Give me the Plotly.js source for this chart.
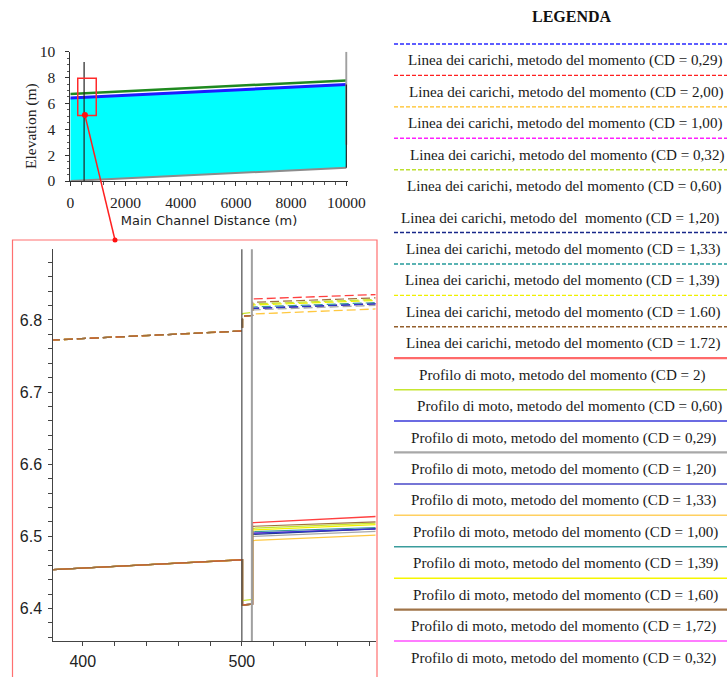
<!DOCTYPE html>
<html>
<head>
<meta charset="utf-8">
<script src="https://cdn.plot.ly/plotly-3.0.1.min.js"></script>
<style>
  html, body { margin: 0; padding: 0; background: #fff; }
  #chart { width: 728px; height: 677px; }
</style>
</head>
<body>
<div id="chart"></div>
<script>
// ---------- Whole reach (overview profile) ----------
const reachStation      = [0, 10000];
const bedElev           = [0.0, 1.03];
const wsReach           = [6.41, 7.46];
const egReach           = [6.73, 7.78];
const bridgeStation     = [500, 500];
const bridgeElev        = [0.0, 9.2];
const outletStation     = [10000, 10000];
const outletWallElev    = [2.8, 10.0];
const outletSectionElev = [1.03, 7.46];

// Zoom window drawn on the overview and the point it is taken from
const zoomBoxStation = [270, 940];
const zoomBoxElev    = [5.07, 7.95];
const zoomPoint      = [530, 5.1];

// ---------- Bridge detail ----------
const detailStation = [380, 500.4, 500.4, 506.7, 506.7, 590];
const bridgeFaces   = [500.0, 506.3];

// Water surface profiles, momentum method (one per drag coefficient CD)
const ws_CD200 = [6.4538, 6.4676, 6.4050, 6.4060, 6.5190, 6.5282];
const ws_CD172 = [6.4538, 6.4676, 6.4045, 6.4060, 6.5140, 6.5206];
const ws_CD060 = [6.4538, 6.4676, 6.4110, 6.4125, 6.5113, 6.5188];
const ws_CD160 = [6.4538, 6.4676, 6.4050, 6.4060, 6.5090, 6.5170];
const ws_CD139 = [6.4538, 6.4676, 6.4050, 6.4060, 6.5065, 6.5128];
const ws_CD029 = [6.4538, 6.4676, 6.4050, 6.4060, 6.5045, 6.5110];
const ws_CD133 = [6.4538, 6.4676, 6.4050, 6.4060, 6.5028, 6.5112];
const ws_CD032 = [6.4538, 6.4676, 6.4050, 6.4060, 6.5045, 6.5110];
const ws_CD120 = [6.4538, 6.4676, 6.4050, 6.4060, 6.5000, 6.5075];
const ws_CD100 = [6.4538, 6.4676, 6.4050, 6.4060, 6.4943, 6.5022];

// Energy grade lines, momentum method
const eg_CD200 = [6.7721, 6.7848, 6.8050, 6.8065, 6.8291, 6.8357];
const eg_CD172 = [6.7721, 6.7848, 6.8050, 6.8065, 6.8245, 6.8312];
const eg_CD060 = [6.7721, 6.7848, 6.8090, 6.8105, 6.8222, 6.8290];
const eg_CD160 = [6.7721, 6.7848, 6.8050, 6.8065, 6.8208, 6.8275];
const eg_CD139 = [6.7721, 6.7848, 6.8050, 6.8065, 6.8180, 6.8245];
const eg_CD029 = [6.7721, 6.7848, 6.8050, 6.8065, 6.8162, 6.8230];
const eg_CD133 = [6.7721, 6.7848, 6.8050, 6.8065, 6.8160, 6.8228];
const eg_CD032 = [6.7721, 6.7848, 6.8050, 6.8065, 6.8162, 6.8230];
const eg_CD120 = [6.7721, 6.7848, 6.8050, 6.8065, 6.8140, 6.8208];
const eg_CD100 = [6.7721, 6.7848, 6.8050, 6.8065, 6.8083, 6.8158];

// ---------- Legend texts ----------
const egLegendText = [
  'Linea dei carichi, metodo del momento (CD = 0,29)',
  'Linea dei carichi, metodo del momento (CD = 2,00)',
  'Linea dei carichi, metodo del momento (CD = 1,00)',
  'Linea dei carichi, metodo del momento (CD = 0,32)',
  'Linea dei carichi, metodo del momento (CD = 0,60)',
  'Linea dei carichi, metodo del\u00a0 momento (CD = 1,20)',
  'Linea dei carichi, metodo del momento (CD = 1,33)',
  'Linea dei carichi, metodo del momento (CD = 1,39)',
  'Linea dei carichi, metodo del momento (CD = 1.60)',
  'Linea dei carichi, metodo del momento (CD = 1.72)'
];
const wsLegendText = [
  'Profilo di moto, metodo del momento (CD = 2)',
  'Profilo di moto, metodo del momento (CD = 0,60)',
  'Profilo di moto, metodo del momento (CD = 0,29)',
  'Profilo di moto, metodo del momento (CD = 1,20)',
  'Profilo di moto, metodo del momento (CD = 1,33)',
  'Profilo di moto, metodo del momento (CD = 1,00)',
  'Profilo di moto, metodo del momento (CD = 1,39)',
  'Profilo di moto, metodo del momento (CD = 1,60)',
  'Profilo di moto, metodo del momento (CD = 1,72)',
  'Profilo di moto, metodo del momento (CD = 0,32)'
];

// ---------- Styling ----------
const W = 728, H = 677;
const PX = v => v / W;          // pixel -> paper (x)
const PY = v => 1 - v / H;      // pixel -> paper (y)

const C = {
  red: '#ff4040', brown: '#a0703c', ygreen: '#c6e430', yellow: '#f2f200',
  teal: '#3a9a9a', blue: '#3535d0', navy: '#1f3a8c', magenta: '#ff40ff',
  grey: '#a8a8a8', gold: '#ffc840'
};

// Overview plot area (pixels)
const topBox = { l: 70.3, r: 347.7, t: 51.7, b: 181 };
const topRangeX = [0, 10050], topRangeY = [0, 10];
// Detail plot area (pixels)
const detBox = { l: 53.3, r: 375.5, t: 249.3, b: 641 };
const detRangeX = [381.5, 584], detRangeY = [6.355, 6.898];

function topToPixel(x, y) {
  const fx = (x - topRangeX[0]) / (topRangeX[1] - topRangeX[0]);
  const fy = (y - topRangeY[0]) / (topRangeY[1] - topRangeY[0]);
  return [topBox.l + fx * (topBox.r - topBox.l), topBox.b - fy * (topBox.b - topBox.t)];
}

const traces = [];

// Overview: channel bed, flow area, water surface, energy line
traces.push({ x: reachStation, y: bedElev, xaxis: 'x', yaxis: 'y', mode: 'lines',
  line: { width: 0, color: 'rgba(0,0,0,0)' }, hoverinfo: 'skip', showlegend: false });
traces.push({ x: reachStation, y: wsReach, xaxis: 'x', yaxis: 'y', mode: 'lines',
  fill: 'tonexty', fillcolor: '#00ffff',
  line: { width: 3, color: '#1c1cff' }, showlegend: false });
traces.push({ x: reachStation, y: bedElev, xaxis: 'x', yaxis: 'y', mode: 'lines',
  line: { width: 2, color: '#8c8c8c' }, showlegend: false });
traces.push({ x: reachStation, y: egReach, xaxis: 'x', yaxis: 'y', mode: 'lines',
  line: { width: 2.5, color: '#1f8a1f' }, showlegend: false });
traces.push({ x: bridgeStation, y: bridgeElev, xaxis: 'x', yaxis: 'y', mode: 'lines',
  line: { width: 1.2, color: '#222' }, showlegend: false });
traces.push({ x: outletStation, y: outletWallElev, xaxis: 'x', yaxis: 'y', mode: 'lines',
  line: { width: 2, color: '#a0a0a0' }, showlegend: false });
traces.push({ x: outletStation, y: outletSectionElev, xaxis: 'x', yaxis: 'y', mode: 'lines',
  line: { width: 1.2, color: '#222' }, showlegend: false });

// Detail: energy lines (dashed) and water surfaces (solid), drawn back to front
const detailSeries = [
  [eg_CD032, ws_CD032, C.magenta, 1.2],
  [eg_CD100, ws_CD100, C.gold, 1.3],
  [eg_CD120, ws_CD120, C.grey, 1.3],
  [eg_CD133, ws_CD133, C.navy, 1.3],
  [eg_CD029, ws_CD029, C.blue, 1.2],
  [eg_CD139, ws_CD139, C.teal, 1.2],
  [eg_CD160, ws_CD160, C.yellow, 1.3],
  [eg_CD060, ws_CD060, C.ygreen, 1.3],
  [eg_CD200, ws_CD200, C.red, 1.3],
  [eg_CD172, ws_CD172, C.brown, 1.2]
];
detailSeries.forEach(([eg, ws, col, w]) => {
  traces.push({ x: detailStation, y: eg, xaxis: 'x2', yaxis: 'y2', mode: 'lines',
    line: { width: w, color: col, dash: '9px,4px' }, showlegend: false });
  traces.push({ x: detailStation, y: ws, xaxis: 'x2', yaxis: 'y2', mode: 'lines',
    line: { width: w, color: col }, showlegend: false });
});

// ---------- Shapes & annotations ----------
const shapes = [];
const annotations = [];

// bridge faces in the detail view
shapes.push({ type: 'line', xref: 'x2', yref: 'y2 domain', x0: bridgeFaces[0], x1: bridgeFaces[0],
  y0: 0, y1: 1, line: { color: '#4a4a4a', width: 1.2 } });
shapes.push({ type: 'line', xref: 'x2', yref: 'y2 domain', x0: bridgeFaces[1], x1: bridgeFaces[1],
  y0: 0, y1: 1, line: { color: '#a0a0a0', width: 2 } });

// zoom window on the overview
shapes.push({ type: 'rect', xref: 'x', yref: 'y',
  x0: zoomBoxStation[0], x1: zoomBoxStation[1], y0: zoomBoxElev[0], y1: zoomBoxElev[1],
  line: { color: '#ff2a2a', width: 1.5 } });

// frame around the detail view
shapes.push({ type: 'rect', xref: 'paper', yref: 'paper',
  x0: PX(12.5), x1: PX(377), y0: PY(700), y1: PY(240),
  line: { color: '#ff7070', width: 1.2 } });

// leader from the overview to the detail frame
const [lx, ly] = topToPixel(zoomPoint[0], zoomPoint[1]);
const leaderEnd = [115, 240];
shapes.push({ type: 'line', xref: 'paper', yref: 'paper',
  x0: PX(lx), y0: PY(ly), x1: PX(leaderEnd[0]), y1: PY(leaderEnd[1]),
  line: { color: '#ff2020', width: 1.5 } });
const dot = (cx, cy, r) => ({ type: 'circle', xref: 'paper', yref: 'paper',
  x0: PX(cx - r), x1: PX(cx + r), y0: PY(cy + r), y1: PY(cy - r),
  fillcolor: '#ff1010', line: { color: '#ff1010', width: 0 } });
shapes.push(dot(lx, ly, 3));
shapes.push(dot(leaderEnd[0], leaderEnd[1], 2.5));

// Overview y-axis title, placed next to the tick labels
annotations.push({ xref: 'paper', yref: 'paper', x: PX(31), y: PY(126), text: 'Elevation (m)',
  textangle: -90, showarrow: false, xanchor: 'center', yanchor: 'middle',
  font: { family: 'Liberation Serif, serif', size: 15.5, color: '#222' } });

// Legend block
annotations.push({ xref: 'paper', yref: 'paper', x: PX(572), y: PY(17), text: '<b>LEGENDA</b>',
  showarrow: false, xanchor: 'center', yanchor: 'middle',
  font: { family: 'Liberation Serif, serif', size: 16, color: '#111' } });

const legendRows = egLegendText.concat(wsLegendText);
const legendLine = [
  ['#2828ff', 'dash1'], ['#ff2020', 'dash1'], ['#ffc020', 'dash1'], ['#ff20ff', 'dash1'], ['#bde030', 'dash1'],
  [null, null], ['#18288a', 'dash1'], ['#249a9a', 'dash1'], ['#f0f000', 'dash1'], ['#935f2c', 'dash1'],
  ['#ff6a6a', 'solid2'], ['#c6e630', 'solid'], ['#3a3ad8', 'solid'], ['#a8a8a8', 'solid2'], ['#4848c8', 'solid'],
  ['#ffd060', 'solid'], ['#3a9c9c', 'solid'], ['#f6f600', 'solid'], ['#a07448', 'solid2'], ['#ff50ff', 'solid']
];
const legendTextX = [565, 566, 565, 567, 564, 560, 563, 562, 563, 563,
                     562, 569, 563, 563, 563, 565, 565, 565, 563, 563];
const rowStep = (641 - 44) / 19;
legendRows.forEach((txt, i) => {
  const yLine = 44 + i * rowStep;
  const [col, sty] = legendLine[i];
  if (col) {
    shapes.push({ type: 'line', xref: 'paper', yref: 'paper',
      x0: PX(394), x1: PX(727), y0: PY(yLine), y1: PY(yLine),
      line: { color: col, width: sty === 'solid2' ? 2.2 : (sty === 'solid' ? 1.5 : 1.4),
              dash: sty === 'dash1' ? '4px,2px' : 'solid' } });
  }
  annotations.push({ xref: 'paper', yref: 'paper', x: PX(legendTextX[i]), y: PY(yLine + 17),
    text: txt, showarrow: false, xanchor: 'center', yanchor: 'middle',
    font: { family: 'Liberation Serif, serif', size: 15.1, color: '#1a1a1a' } });
});

const serifTick = { family: 'Liberation Serif, serif', size: 15.5, color: '#222' };
const sansTick = { family: 'Liberation Sans, Arial, sans-serif', size: 16, color: '#222' };

const layout = {
  width: W, height: H, autosize: false,
  margin: { l: 0, r: 0, t: 0, b: 0, pad: 0 },
  paper_bgcolor: '#fff', plot_bgcolor: 'rgba(0,0,0,0)',
  showlegend: false,
  xaxis: {
    domain: [PX(topBox.l), PX(topBox.r)], range: topRangeX, anchor: 'y',
    showgrid: false, zeroline: false, showline: true, linecolor: '#333', linewidth: 1,
    ticks: 'outside', ticklen: 4, tickcolor: '#333', tick0: 0, dtick: 2000, tickformat: 'd',
    tickfont: serifTick, ticklabelstandoff: 3,
    minor: { dtick: 400, ticks: 'outside', ticklen: 2.5, tickcolor: '#555' },
    title: { text: 'Main Channel Distance (m)', standoff: 6,
             font: { family: 'DejaVu Sans, sans-serif', size: 13, color: '#222' } }
  },
  yaxis: {
    domain: [PY(topBox.b), PY(topBox.t)], range: topRangeY, anchor: 'x',
    showgrid: false, zeroline: false, showline: true, linecolor: '#333', linewidth: 1,
    ticks: 'outside', ticklen: 4, tickcolor: '#333', tick0: 0, dtick: 2,
    tickfont: serifTick, ticklabelstandoff: 7,
    minor: { dtick: 0.5, ticks: 'outside', ticklen: 2.5, tickcolor: '#555' }
  },
  xaxis2: {
    domain: [PX(detBox.l), PX(detBox.r)], range: detRangeX, anchor: 'y2',
    showgrid: false, zeroline: false, showline: true, linecolor: '#444', linewidth: 1,
    ticks: 'outside', ticklen: 4, tickcolor: '#444', tick0: 0, dtick: 100,
    tickfont: sansTick, ticklabelstandoff: 2,
    minor: { dtick: 20, ticks: 'outside', ticklen: 4, tickcolor: '#444' }
  },
  yaxis2: {
    domain: [PY(detBox.b), PY(detBox.t)], range: detRangeY, anchor: 'x2',
    showgrid: false, zeroline: false, showline: true, linecolor: '#444', linewidth: 1,
    ticks: 'outside', ticklen: 4, tickcolor: '#444', tick0: 0, dtick: 0.1,
    tickformat: '.1f', tickfont: sansTick, ticklabelstandoff: 3,
    minor: { dtick: 0.02, ticks: 'outside', ticklen: 4, tickcolor: '#444' }
  },
  shapes: shapes,
  annotations: annotations
};

Plotly.newPlot('chart', traces, layout, { staticPlot: true, displayModeBar: false });
</script>
</body>
</html>
